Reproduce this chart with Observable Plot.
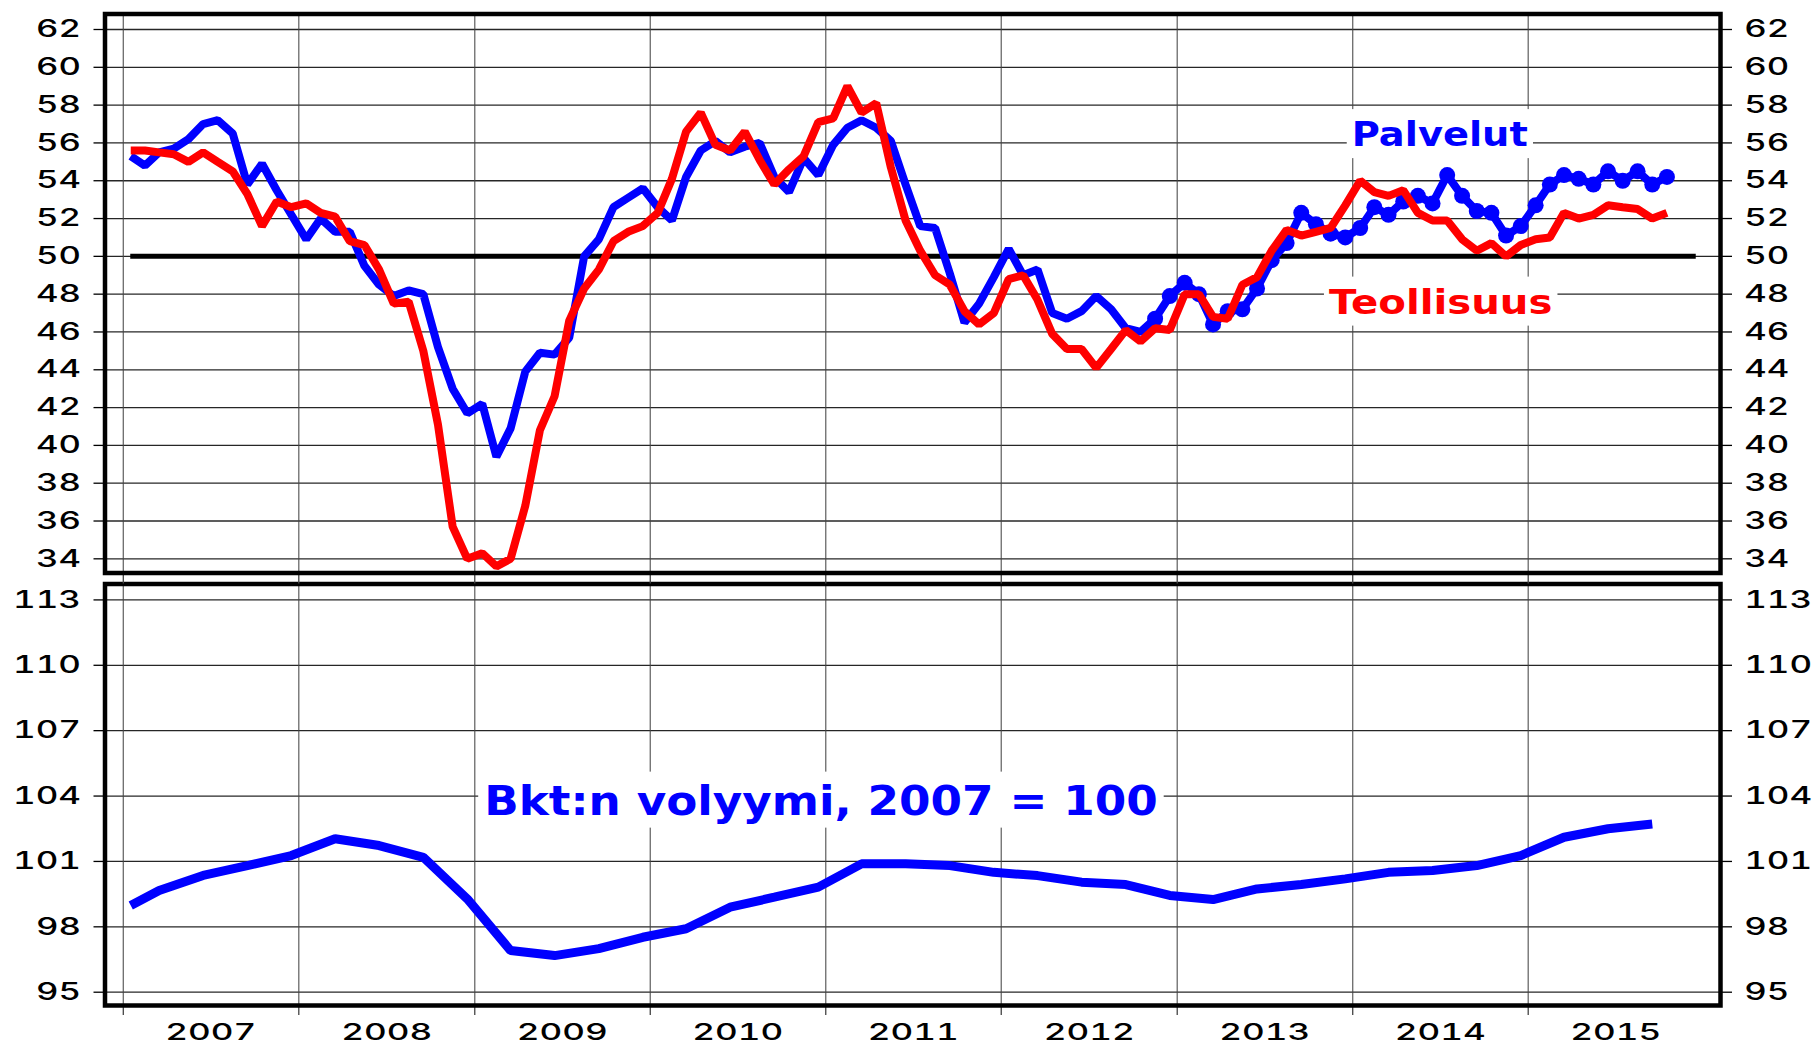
<!DOCTYPE html>
<html><head><meta charset="utf-8">
<script src="https://cdn.jsdelivr.net/npm/d3@7"></script>
<script src="https://cdn.jsdelivr.net/npm/@observablehq/plot@0.6"></script>
<style>
body{margin:0;background:#fff;}
#wrap{position:relative;width:1820px;height:1047px;overflow:hidden;}
#wrap svg{position:absolute;left:0;}
</style></head><body><div id="wrap"></div>
<script>
// ---------------- data ----------------
const firstMonth = "2007-01";
const palvelut = [
55.3,54.8,55.5,55.7,56.2,57.0,57.2,56.5,53.8,54.9,53.5,52.2,
50.9,52.0,51.3,51.3,49.5,48.5,47.9,48.2,48.0,45.2,43.0,41.7,
42.2,39.4,40.9,43.9,44.9,44.8,45.7,50.0,50.9,52.6,53.1,53.6,
52.6,51.9,54.2,55.6,56.1,55.5,55.8,56.0,54.2,53.4,55.2,54.3,
55.9,56.8,57.2,56.8,56.1,53.8,51.6,51.5,49.1,46.5,47.5,48.9,
50.4,49.0,49.3,47.0,46.7,47.1,47.9,47.2,46.2,46.0,46.7,47.9,
48.6,48.0,46.4,47.1,47.2,48.3,49.8,50.7,52.3,51.7,51.2,51.0,
51.5,52.6,52.2,52.9,53.2,52.8,54.3,53.2,52.4,52.3,51.1,51.6,
52.7,53.8,54.3,54.1,53.8,54.5,54.0,54.5,53.8,54.2
];
const teollisuus = [
55.6,55.6,55.5,55.4,55.0,55.5,55.0,54.5,53.3,51.6,52.9,52.6,
52.8,52.3,52.1,50.8,50.6,49.3,47.5,47.6,45.0,41.1,35.7,34.0,
34.3,33.6,34.0,36.8,40.8,42.6,46.6,48.3,49.3,50.8,51.3,51.6,
52.3,54.1,56.6,57.6,55.9,55.6,56.6,55.1,53.8,54.6,55.3,57.1,
57.3,59.0,57.6,58.1,54.7,51.9,50.3,49.0,48.5,47.1,46.4,47.0,
48.8,49.0,47.7,45.9,45.1,45.1,44.1,45.1,46.1,45.5,46.2,46.1,
48.0,48.0,46.8,46.7,48.5,48.9,50.3,51.4,51.1,51.3,51.5,52.7,
54.0,53.4,53.2,53.5,52.3,51.9,51.9,50.9,50.3,50.7,50.0,50.6,
50.9,51.0,52.3,52.0,52.2,52.7,52.6,52.5,52.0,52.3
];
const palvelutDotsFrom = "2012-11";
const gdpMonths = [
"2007-01","2007-03","2007-06","2007-09","2007-12","2008-03","2008-06","2008-09","2008-12",
"2009-03","2009-06","2009-09","2009-12","2010-03","2010-06","2010-09","2010-12",
"2011-03","2011-06","2011-09","2011-12","2012-03","2012-06","2012-09","2012-12",
"2013-03","2013-06","2013-09","2013-12","2014-03","2014-06","2014-09","2014-12",
"2015-03","2015-06","2015-09"
];
const gdp = [
98.98,99.67,100.36,100.81,101.27,102.04,101.73,101.19,99.28,
96.91,96.68,97.0,97.52,97.91,98.9,99.36,99.82,
100.89,100.89,100.81,100.5,100.35,100.05,99.94,99.44,
99.25,99.74,99.94,100.2,100.5,100.58,100.81,101.27,
102.11,102.5,102.72
];
const pmiTicks = [34,36,38,40,42,44,46,48,50,52,54,56,58,60,62];
const gdpTicks = [95,98,101,104,107,110,113];
const years = [2007,2008,2009,2010,2011,2012,2013,2014,2015];
const threshold = 50;
const thresholdEnd = "2015-12";
const labelPalvelut = "Palvelut";
const labelTeollisuus = "Teollisuus";
const labelGdp = "Bkt:n volyymi, 2007 = 100";

// ---------------- helpers ----------------
function mid(ym){const [y,m]=ym.split("-").map(Number);const a=Date.UTC(y,m-1,1),b=Date.UTC(y,m,1);return new Date((a+b)/2);}
function monthMid(i){const [y,m]=firstMonth.split("-").map(Number);const a=Date.UTC(y,m-1+i,1),b=Date.UTC(y,m+i,1);return new Date((a+b)/2);}
const pal = palvelut.map((v,i)=>({date:monthMid(i),v}));
const teo = teollisuus.map((v,i)=>({date:monthMid(i),v}));
const dotStart = mid(palvelutDotsFrom);
const palDots = pal.filter(d=>d.date>=dotStart);
const gdpData = gdp.map((v,i)=>({date:mid(gdpMonths[i]),v}));
const yearStarts = years.map(y=>new Date(Date.UTC(y,0,1)));
const yearMids = years.map(y=>new Date(Date.UTC(y,6,2)));
const thr = [{v:threshold,a:monthMid(0),b:mid(thresholdEnd)}];

// layout calibration
const W=1820, FL=104.5, FR=1720, X07=122.8, X16=1703.2;
const T07=Date.UTC(2007,0,1), T16=Date.UTC(2016,0,1);
const pxPerMs=(X16-X07)/(T16-T07);
const xDomain=[new Date(T07-(X07-FL)/pxPerMs), new Date(T16+(FR-X16)/pxPerMs)];
const font="Inter, 'DejaVu Sans', sans-serif";
const labelFont="'DejaVu Sans', sans-serif";
const BLUE="#0000ff", RED="#ff0000";
const TW=500;

const wrap=document.getElementById("wrap");

function axisMarks(ticks){
  return [
    Plot.axisY(ticks,{anchor:"left",tickSize:11,tickPadding:13,fontSize:24,fontWeight:TW,label:null,tickFormat:d=>String(d),strokeWidth:1.3}),
    Plot.axisY(ticks,{anchor:"right",tickSize:11,tickPadding:12.7,fontSize:24,fontWeight:TW,label:null,tickFormat:d=>String(d),strokeWidth:1.3})
  ];
}

// ---------------- top chart ----------------
const topChart = Plot.plot({
  width:W, height:590,
  marginTop:13.5, marginBottom:17.5, marginLeft:FL, marginRight:W-FR,
  x:{type:"utc",domain:xDomain,axis:null},
  y:{domain:[33.25,62.82],axis:null},
  style:{background:"transparent",overflow:"visible",fontFamily:font,fontSize:"24px",color:"#000"},
  marks:[
    Plot.gridY(pmiTicks,{stroke:"#000",strokeOpacity:0.85,strokeWidth:1.3}),
    Plot.gridX(yearStarts,{stroke:"#444",strokeOpacity:0.8,strokeWidth:1.3}),
    Plot.axisX(yearStarts,{anchor:"bottom",tickSize:11,tickFormat:()=>"",label:null,stroke:"#444",strokeWidth:1.3}),
    ...axisMarks(pmiTicks),
    Plot.text([{date:new Date(Date.UTC(2014,6,1)),v:56.39}],{x:"date",y:"v",text:()=>labelPalvelut,fill:BLUE,fontSize:33,fontWeight:"bold",fontFamily:labelFont}),
    Plot.text([{date:new Date(Date.UTC(2014,6,3)),v:47.53}],{x:"date",y:"v",text:()=>labelTeollisuus,fill:RED,fontSize:33,fontWeight:"bold",fontFamily:labelFont}),
    Plot.ruleY(thr,{y:"v",x1:"a",x2:"b",stroke:"#000",strokeWidth:5}),
    Plot.line(pal,{x:"date",y:"v",stroke:BLUE,strokeWidth:8,strokeLinejoin:"miter",strokeLinecap:"butt"}),
    Plot.dot(palDots,{x:"date",y:"v",r:8,fill:BLUE,stroke:null}),
    Plot.line(teo,{x:"date",y:"v",stroke:RED,strokeWidth:8,strokeLinejoin:"miter",strokeLinecap:"butt"}),
    Plot.frame({stroke:"#000",strokeWidth:4.5})
  ]
});
topChart.style.top="0px";

// ---------------- bottom chart ----------------
const botChart = Plot.plot({
  width:W, height:469,
  marginTop:5.5, marginBottom:42, marginLeft:FL, marginRight:W-FR,
  x:{type:"utc",domain:xDomain,axis:null},
  y:{domain:[94.39,113.73],axis:null},
  style:{background:"transparent",overflow:"visible",fontFamily:font,fontSize:"24px",color:"#000"},
  marks:[
    Plot.gridY(gdpTicks,{stroke:"#000",strokeOpacity:0.85,strokeWidth:1.3}),
    Plot.gridX(yearStarts,{stroke:"#444",strokeOpacity:0.8,strokeWidth:1.3}),
    Plot.axisX(yearStarts,{anchor:"bottom",tickSize:10,tickFormat:()=>"",label:null,stroke:"#444",strokeWidth:1.3}),
    Plot.axisX(yearMids,{anchor:"bottom",tickSize:0,tickPadding:18,fontSize:23,fontWeight:TW,label:null,tickFormat:d=>String(d.getUTCFullYear())}),
    ...axisMarks(gdpTicks),
    Plot.text([{date:new Date(Date.UTC(2010,11,22)),v:103.75}],{x:"date",y:"v",text:()=>labelGdp,fill:BLUE,fontSize:41,fontWeight:"bold",fontFamily:labelFont}),
    Plot.line(gdpData,{x:"date",y:"v",stroke:BLUE,strokeWidth:9,strokeLinejoin:"miter",strokeLinecap:"butt"}),
    Plot.frame({stroke:"#000",strokeWidth:4.5})
  ]
});
botChart.style.top="578px";

wrap.appendChild(botChart);
wrap.appendChild(topChart);

// stretch text to mimic the wide typeface, and add white boxes behind labels
const widths = {};
widths[labelPalvelut]=176; widths[labelTeollisuus]=223.5; widths[labelGdp]=673.5;
const pads = {};
pads[labelPalvelut]=[5,6,4]; pads[labelTeollisuus]=[5,6,4]; pads[labelGdp]=[6,5,3];
for (const svg of [topChart,botChart]){
  const sr = svg.getBoundingClientRect();
  svg.querySelectorAll("text").forEach(t=>{
    const s=t.textContent;
    if(!s) return;
    const w = widths[s] ?? (s.length*23-1);
    t.setAttribute("textLength",w);
    t.setAttribute("lengthAdjust","spacingAndGlyphs");
    if(widths[s]){
      const r=t.getBoundingClientRect();
      const p=pads[s];
      const rect=document.createElementNS("http://www.w3.org/2000/svg","rect");
      rect.setAttribute("x",r.left-sr.left-p[0]);
      rect.setAttribute("y",r.top-sr.top-p[1]);
      rect.setAttribute("width",r.width+2*p[0]);
      rect.setAttribute("height",r.height+p[1]+p[2]);
      rect.setAttribute("fill","#fff");
      const g=t.parentNode;
      g.parentNode.insertBefore(rect,g);
    }
  });
}
</script></body></html>
